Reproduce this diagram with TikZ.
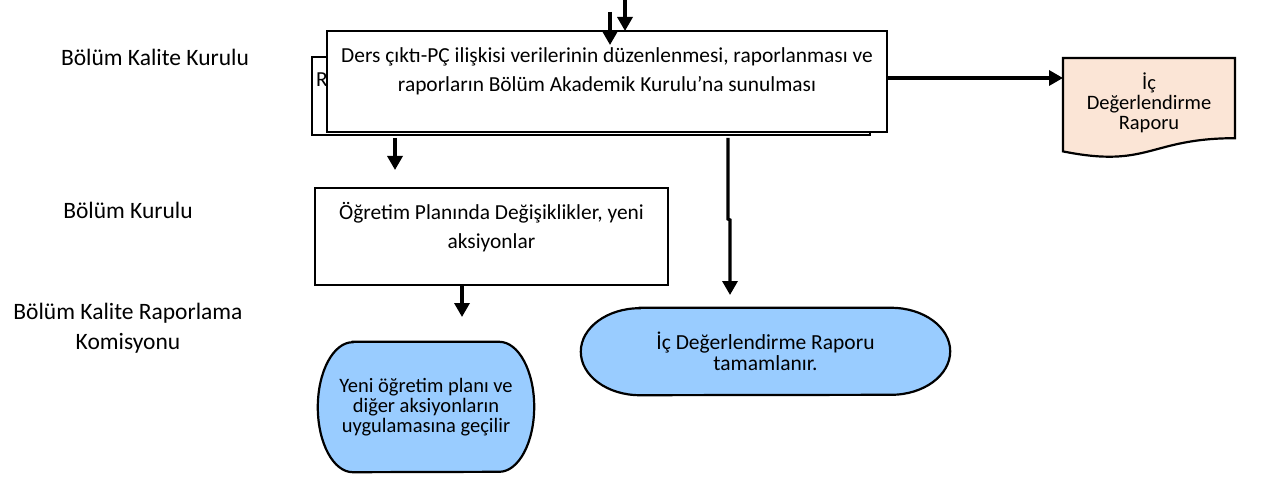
\documentclass[tikz,border=0pt]{standalone}
\usepackage{fontspec}
\setmainfont{Carlito}
\usetikzlibrary{arrows.meta,backgrounds}
\definecolor{termblue}{HTML}{99CCFF}
\definecolor{docpeach}{HTML}{FBE5D6}
\begin{document}
\begin{tikzpicture}[x=1pt,y=1pt,
  box/.style={draw,line width=2.2pt,fill=white,inner sep=0pt,outer sep=0pt},
  txt/.style={font=\fontsize{21.4}{29}\selectfont,align=center,inner sep=0pt},
  ttxt/.style={font=\fontsize{20.5}{20}\selectfont,align=center,inner sep=0pt},
  itxt/.style={font=\fontsize{21.5}{21}\selectfont,align=center,inner sep=0pt},
  lbl/.style={font=\fontsize{23.5}{30}\selectfont,align=center,inner sep=0pt},
  arr/.style={line width=3.3pt,-{Triangle[length=14pt,width=15pt]}},
  term/.style={draw,line width=2.2pt,fill=termblue},
  docshape/.style={draw,line width=2.2pt,fill=docpeach},
]
\useasboundingbox (0,0) rectangle (1268,477);

% left labels
\node[lbl] (l1) at (155,420) {Bölüm Kalite Kurulu};
\node[lbl] (l2) at (128,267) {Bölüm Kurulu};
\node[lbl] (l3) at (128,149) {Bölüm Kalite Raporlama\\Komisyonu};

% back and main boxes
\node[box,minimum width=558pt,minimum height=78pt] (back) at (591,381) {};
\node[txt,anchor=west] (backT) at (316,397) {R};
\node[box,minimum width=560pt,minimum height=101pt] (main) at (607,395.5) {};
\node[txt] (mainT) at (607,405.5) {Ders çıktı-PÇ ilişkisi verilerinin düzenlenmesi, raporlanması ve\\raporların Bölüm Akademik Kurulu’na sunulması};

% second-level box
\node[box,minimum width=353pt,minimum height=97pt] (oz) at (491.5,240.5) {};
\node[txt] (ozT) at (491.5,249.5) {Öğretim Planında Değişiklikler, yeni\\aksiyonlar};

% terminators
\node[ttxt,minimum width=216pt,minimum height=130pt] (yeni) at (426,70) {Yeni öğretim planı ve\\diğer aksiyonların\\uygulamasına geçilir};
\node[itxt,minimum width=369pt,minimum height=87pt] (ic) at (765.5,125.5) {İç Değerlendirme Raporu\\tamamlanır.};

% document
\node[inner sep=0pt,outer sep=0pt,minimum width=172pt,minimum height=100pt] (doc) at (1149,369) {};
\node[ttxt] (docT) at (1149,374) {İç\\Değerlendirme\\Raporu};

\begin{scope}[on background layer]
\draw[term] ([xshift=35pt]yeni.north west) -- ([xshift=-35pt]yeni.north east)
  arc[start angle=90,end angle=-90,x radius=35pt,y radius=65pt]
  -- ([xshift=35pt]yeni.south west)
  arc[start angle=270,end angle=90,x radius=35pt,y radius=65pt] -- cycle;
\draw[term] ([xshift=59pt]ic.north west) -- ([xshift=-59pt]ic.north east)
  arc[start angle=90,end angle=-90,x radius=59pt,y radius=43.5pt]
  -- ([xshift=59pt]ic.south west)
  arc[start angle=270,end angle=90,x radius=59pt,y radius=43.5pt] -- cycle;
\draw[docshape] (doc.north west) -- (doc.north east) -- ([yshift=19.8pt]doc.south east)
  .. controls ([yshift=19.8pt]doc.south) and ([yshift=-10.7pt]doc.south) .. ([yshift=6.6pt]doc.south west) -- cycle;
\end{scope}

% arrows
\coordinate (t1) at (625,477);
\coordinate (t2s) at (610,465);
\coordinate (t2e) at (610,432);
\draw[arr] (t1) -- (t1 |- main.north);
\draw[arr] (t2s) -- (t2e);

\coordinate (dA) at (1063,399);
\draw[arr] (main.east |- dA) -- (dA);

\coordinate (b1) at (395,339);
\coordinate (b2) at (395,307);
\draw[arr] (b1) -- (b2);

\coordinate (o1) at (462,160);
\draw[arr] (o1 |- oz.south) -- (o1);

\coordinate (m1) at (728,339);
\coordinate (m2) at (728,258);
\coordinate (m3) at (730,257);
\coordinate (m4) at (730,182);
\draw[arr] (m1) -- (m2) -- (m3) -- (m4);
\end{tikzpicture}
\end{document}
